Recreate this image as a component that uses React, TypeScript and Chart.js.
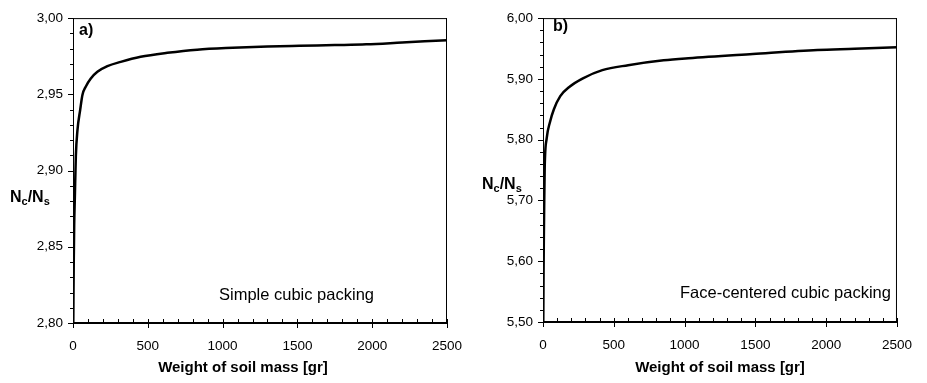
import { useEffect, useRef } from "react";
import { Chart, registerables } from "chart.js";
Chart.register(...registerables);

// ---- data ----
const weightA = [2, 5, 8, 12, 19, 30, 48, 63, 85, 119, 163, 230, 319, 452, 630, 830, 1067, 1300, 1513, 1750, 1960, 2200, 2500];
const ratioA = [2.8, 2.84, 2.865, 2.881, 2.9094, 2.9267, 2.9398, 2.9496, 2.955, 2.9604, 2.9648, 2.9685, 2.9713, 2.9746, 2.9772, 2.9793, 2.9805, 2.9813, 2.9818, 2.9823, 2.9828, 2.984, 2.9855];
const weightB = [2, 4, 6, 8, 12, 26, 49, 77, 122, 190, 282, 419, 601, 852, 1027, 1482, 1938, 2200, 2500];
const ratioB = [5.5, 5.58, 5.64, 5.684, 5.754, 5.802, 5.8287, 5.85, 5.8716, 5.8876, 5.901, 5.9144, 5.9225, 5.9305, 5.934, 5.941, 5.9476, 5.9495, 5.952];

const xRange = [0, 2500];
const yRangeA = [2.8, 3.0];
const yRangeB = [5.5, 6.0];
const xMajorStep = 500;
const xMinorStep = 100;
const yMajorStepA = 0.05;
const yMinorStepA = 0.01;
const yMajorStepB = 0.1;
const yMinorStepB = 0.02;
const panelTags = ["a)", "b)"];
const packingNames = ["Simple cubic packing", "Face-centered cubic packing"];
const xAxisTitle = "Weight of soil mass [gr]";

const FONT = "'Liberation Sans', Arial, sans-serif";

type Panel = {
  xs: number[];
  ys: number[];
  yRange: number[];
  yMajor: number;
  yMinor: number;
  tag: string;
  name: string;
  canvasLeft: number;
  canvasWidth: number;
  area: { left: number; right: number; top: number; bottom: number };
  tagPos: [number, number];
  namePos: [number, number];
  yTitlePos: [number, number];
  xTitlePos: [number, number];
};

const H = 383;

const panels: Panel[] = [
  {
    xs: weightA,
    ys: ratioA,
    yRange: yRangeA,
    yMajor: yMajorStepA,
    yMinor: yMinorStepA,
    tag: panelTags[0],
    name: packingNames[0],
    canvasLeft: 0,
    canvasWidth: 480,
    area: { left: 73, right: 447, top: 13, bottom: 323 },
    tagPos: [79, 31],
    namePos: [219, 295],
    yTitlePos: [10, 198],
    xTitlePos: [243, 368],
  },
  {
    xs: weightB,
    ys: ratioB,
    yRange: yRangeB,
    yMajor: yMajorStepB,
    yMinor: yMinorStepB,
    tag: panelTags[1],
    name: packingNames[1],
    canvasLeft: 460,
    canvasWidth: 467,
    area: { left: 83, right: 449, top: 10, bottom: 322 },
    tagPos: [93, 27],
    namePos: [220, 293],
    yTitlePos: [22, 185],
    xTitlePos: [260, 368],
  },
];

function fmt(v: number, d: number) {
  return v.toFixed(d).replace(".", ",");
}

function drawRatioTitle(ctx: CanvasRenderingContext2D, x: number, y: number) {
  const big = `bold 16px ${FONT}`;
  const small = `bold 11px ${FONT}`;
  ctx.textBaseline = "middle";
  ctx.textAlign = "left";
  let cx = x;
  const parts: [string, boolean][] = [
    ["N", false],
    ["c", true],
    ["/N", false],
    ["s", true],
  ];
  for (const [t, sub] of parts) {
    ctx.font = sub ? small : big;
    ctx.fillText(t, cx, sub ? y + 4 : y);
    cx += ctx.measureText(t).width;
  }
}

function PanelChart({ p }: { p: Panel }) {
  const ref = useRef<HTMLCanvasElement>(null);
  useEffect(() => {
    if (!ref.current) return;
    const frame = {
      id: "frame",
      afterDatasetsDraw(chart: any) {
        const { ctx, chartArea } = chart;
        const { left, right, top, bottom } = chartArea;
        const x = chart.scales.x;
        const y = chart.scales.y;
        ctx.save();
        ctx.strokeStyle = "#000";
        ctx.lineWidth = 1;
        ctx.beginPath();
        ctx.moveTo(left, top + 0.5);
        ctx.lineTo(right, top + 0.5);
        ctx.moveTo(right - 0.5, top);
        ctx.lineTo(right - 0.5, bottom);
        ctx.moveTo(left + 0.5, top);
        ctx.lineTo(left + 0.5, bottom);
        const nY = Math.round((p.yRange[1] - p.yRange[0]) / p.yMinor);
        const ratio = Math.round(p.yMajor / p.yMinor);
        for (let i = 0; i <= nY; i++) {
          const v = p.yRange[0] + i * p.yMinor;
          const py = Math.round(y.getPixelForValue(v)) + 0.5;
          const len = i % ratio === 0 ? 5 : 3;
          ctx.moveTo(left - len, py);
          ctx.lineTo(left, py);
        }
        const nX = Math.round((xRange[1] - xRange[0]) / xMinorStep);
        const xr = Math.round(xMajorStep / xMinorStep);
        for (let i = 0; i <= nX; i++) {
          const v = xRange[0] + i * xMinorStep;
          const px = Math.round(x.getPixelForValue(v)) + 0.5;
          if (i % xr === 0) {
            ctx.moveTo(px, bottom - 4);
            ctx.lineTo(px, bottom + 5);
          } else {
            ctx.moveTo(px, bottom - 4);
            ctx.lineTo(px, bottom);
          }
        }
        ctx.stroke();
        ctx.lineWidth = 2;
        ctx.beginPath();
        ctx.moveTo(left, bottom);
        ctx.lineTo(right, bottom);
        ctx.stroke();

        ctx.fillStyle = "#000";
        ctx.textBaseline = "middle";
        ctx.textAlign = "left";
        ctx.font = `bold 16px ${FONT}`;
        ctx.fillText(p.tag, p.tagPos[0], p.tagPos[1]);
        ctx.font = `16.5px ${FONT}`;
        ctx.fillText(p.name, p.namePos[0], p.namePos[1]);
        ctx.font = `bold 15px ${FONT}`;
        ctx.textAlign = "center";
        ctx.fillText(xAxisTitle, p.xTitlePos[0], p.xTitlePos[1]);
        drawRatioTitle(ctx, p.yTitlePos[0], p.yTitlePos[1]);
        ctx.restore();
      },
    };
    const chart = new Chart(ref.current, {
      type: "line",
      data: {
        datasets: [
          {
            data: p.xs.map((v, i) => ({ x: v, y: p.ys[i] })),
            borderColor: "#000",
            borderWidth: 2.5,
            pointRadius: 0,
            cubicInterpolationMode: "monotone",
            fill: false,
          },
        ],
      },
      options: {
        animation: false,
        responsive: false,
        devicePixelRatio: 1,
        layout: {
          padding: {
            left: 0,
            top: p.area.top,
            right: p.canvasWidth - p.area.right,
            bottom: 0,
          },
        },
        plugins: { legend: { display: false }, tooltip: { enabled: false } },
        scales: {
          x: {
            type: "linear",
            min: xRange[0],
            max: xRange[1],
            grid: { display: false, drawTicks: false },
            border: { display: false },
            ticks: {
              stepSize: xMajorStep,
              padding: 15,
              color: "#000",
              font: { family: FONT, size: 13.5 },
              maxRotation: 0,
              callback: (v: any) => String(v),
            },
            afterFit: (s: any) => {
              s.height = H - p.area.bottom;
            },
          },
          y: {
            type: "linear",
            min: p.yRange[0],
            max: p.yRange[1],
            grid: { display: false, drawTicks: false },
            border: { display: false },
            ticks: {
              stepSize: p.yMajor,
              padding: 10,
              color: "#000",
              font: { family: FONT, size: 13.5 },
              callback: (v: any) => fmt(Number(v), 2),
            },
            afterFit: (s: any) => {
              s.width = p.area.left;
            },
          },
        },
      },
      plugins: [frame],
    } as any);
    return () => chart.destroy();
  }, [p]);
  return (
    <canvas
      ref={ref}
      width={p.canvasWidth}
      height={H}
      style={{
        position: "absolute",
        left: p.canvasLeft,
        top: 0,
        width: p.canvasWidth,
        height: H,
      }}
    />
  );
}

export default function App() {
  return (
    <div
      style={{
        position: "fixed",
        left: 0,
        top: 0,
        width: 927,
        height: H,
        background: "#fff",
      }}
    >
      {panels.map((p, i) => (
        <PanelChart key={i} p={p} />
      ))}
    </div>
  );
}
